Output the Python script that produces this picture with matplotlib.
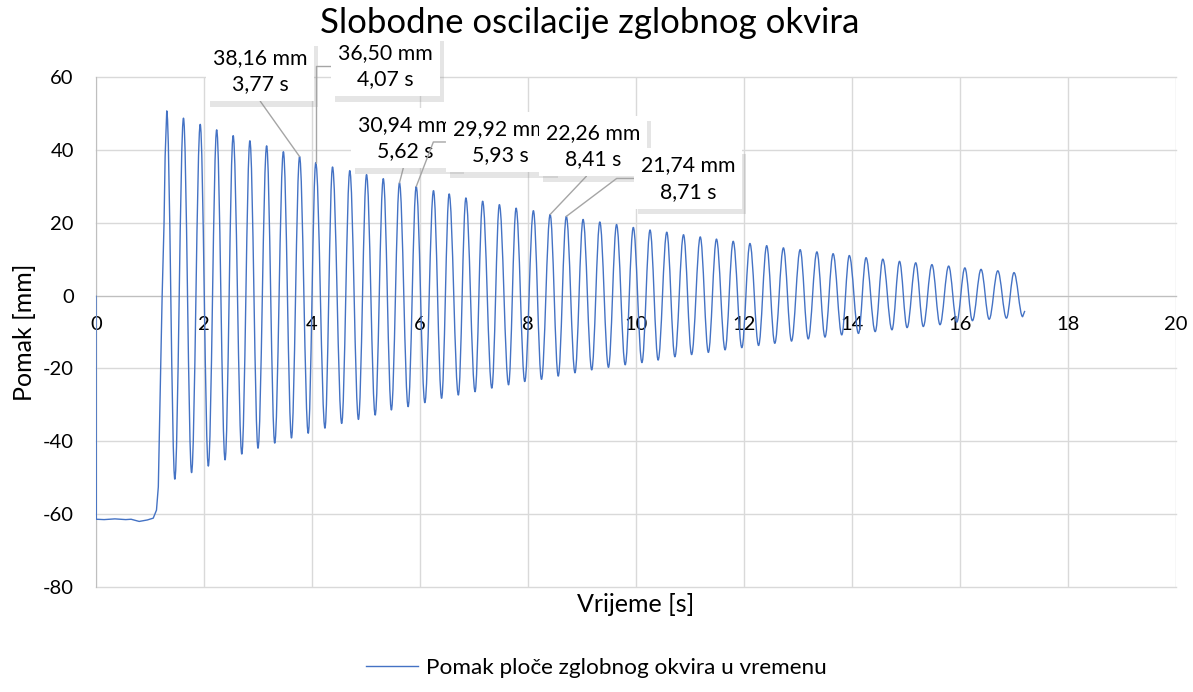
import numpy as np
import matplotlib
matplotlib.use("Agg")
import matplotlib.pyplot as plt
from matplotlib.path import Path
from matplotlib.patches import PathPatch
from matplotlib.lines import Line2D
import matplotlib.patheffects as pe

plt.rcParams['font.family'] = ['Lato', 'DejaVu Sans']
plt.rcParams['axes.unicode_minus'] = False

# data
# resting position and release (before free oscillation starts)
release_t = [0.0, 0.005, 0.15, 0.35, 0.55, 0.65, 0.80, 0.95, 1.06, 1.12, 1.154, 1.17, 1.197, 1.225, 1.26, 1.28]
release_v = [0.0, -61.4, -61.5, -61.3, -61.5, -61.4, -62.0, -61.6, -61.1, -58.9, -52.5, -40.5, -20.4, 0.0, 19.8, 38.1]

peak_t = [1.31, 1.62, 1.93, 2.235, 2.54, 2.85, 3.16, 3.47, 3.77, 4.07,
          4.38, 4.70, 5.01, 5.32, 5.62, 5.93, 6.25, 6.54, 6.85, 7.16,
          7.47, 7.78, 8.10, 8.41, 8.71, 9.02, 9.33, 9.64, 9.95, 10.26,
          10.57, 10.88, 11.19, 11.49, 11.80, 12.11, 12.42, 12.73, 13.04, 13.35,
          13.65, 13.95, 14.26, 14.57, 14.88, 15.18, 15.48, 15.79, 16.09, 16.39,
          16.70, 17.00]
peak_v = [50.7, 48.7, 47.0, 45.5, 43.9, 42.5, 41.1, 39.5, 38.16, 36.50,
          35.3, 34.3, 33.2, 32.1, 30.94, 29.92, 28.8, 27.9, 26.8, 25.9,
          24.96, 24.0, 23.3, 22.26, 21.74, 20.9, 20.2, 19.5, 18.7, 18.0,
          17.4, 16.7, 16.1, 15.5, 14.9, 14.3, 13.7, 13.1, 12.6, 12.0,
          11.5, 11.0, 10.4, 10.0, 9.4, 9.0, 8.5, 8.1, 7.6, 7.2,
          6.8, 6.3]
trough_t = [1.46, 1.77, 2.08, 2.39, 2.70, 3.00, 3.31, 3.62, 3.93, 4.24,
            4.55, 4.86, 5.17, 5.47, 5.78, 6.09, 6.40, 6.71, 7.02, 7.33,
            7.64, 7.94, 8.25, 8.56, 8.87, 9.18, 9.49, 9.80, 10.11, 10.41,
            10.72, 11.03, 11.34, 11.65, 11.96, 12.27, 12.57, 12.88, 13.19, 13.50,
            13.81, 14.12, 14.43, 14.74, 15.02, 15.32, 15.63, 15.94, 16.23, 16.54,
            16.86, 17.16]
trough_v = [-50.4, -48.6, -46.8, -45.1, -43.5, -41.9, -40.5, -39.1, -37.8, -36.4,
            -35.1, -34.0, -32.8, -31.4, -30.5, -29.4, -28.2, -27.3, -26.4, -25.4,
            -24.5, -23.6, -23.0, -22.1, -21.2, -20.4, -19.7, -19.0, -18.4, -17.7,
            -16.8, -16.2, -15.6, -14.9, -14.3, -13.7, -13.1, -12.5, -11.9, -11.4,
            -10.8, -10.4, -9.9, -9.4, -8.8, -8.5, -8.0, -7.3, -6.9, -6.5,
            -6.2, -5.8]
end_t, end_v = 17.20, -4.2

# labelled peaks
label_t = [3.77, 4.07, 5.62, 5.93, 8.41, 8.71]
label_v = [38.16, 36.50, 30.94, 29.92, 22.26, 21.74]

line_color = '#4472C4'
grid_color = '#d9d9d9'
axis_color = '#bfbfbf'
lead_color = '#a5a5a5'

fig = plt.figure(figsize=(11.93, 6.92), dpi=100)
ax = fig.add_axes([96 / 1193, 1 - 587 / 692, 1080 / 1193, 510 / 692])

# build the curve: straight segments for the release, smooth bezier
# segments (horizontal tangent at every extremum) for the oscillation
ext_t = []
ext_v = []
for pt, pv, tt, tv in zip(peak_t, peak_v, trough_t, trough_v):
    ext_t += [pt, tt]
    ext_v += [pv, tv]

verts = [(release_t[0], release_v[0])]
codes = [Path.MOVETO]
for t, v in zip(release_t[1:], release_v[1:]):
    verts.append((t, v))
    codes.append(Path.LINETO)
verts.append((ext_t[0], ext_v[0]))
codes.append(Path.LINETO)
k = 0.36
for i in range(1, len(ext_t)):
    t0, v0 = ext_t[i - 1], ext_v[i - 1]
    t1, v1 = ext_t[i], ext_v[i]
    dt = t1 - t0
    verts += [(t0 + k * dt, v0), (t1 - k * dt, v1), (t1, v1)]
    codes += [Path.CURVE4] * 3
verts.append((end_t, end_v))
codes.append(Path.LINETO)

curve = PathPatch(Path(verts, codes), fill=False, edgecolor=line_color,
                  lw=1.0, zorder=3, joinstyle='round')
ax.add_patch(curve)

ax.set_xlim(0, 20)
ax.set_ylim(-80, 60)
ax.set_xticks(np.arange(0, 21, 2))
ax.set_yticks(np.arange(-80, 61, 20))
ax.grid(True, color=grid_color, lw=1.0, zorder=0)
ax.set_axisbelow(True)
for gl in ax.get_xgridlines() + ax.get_ygridlines():
    gl.set_clip_on(False)

ax.spines['bottom'].set_position(('data', 0))
ax.spines['bottom'].set_color(axis_color)
ax.spines['left'].set_color(axis_color)
ax.spines['top'].set_visible(False)
ax.spines['right'].set_visible(False)
ax.tick_params(axis='both', length=0, labelsize=14.5, colors='black')
ax.tick_params(axis='x', pad=15)
ax.tick_params(axis='y', pad=16)

ax.set_xlabel('Vrijeme [s]', fontsize=18)
ax.xaxis.set_label_coords(0.5, -0.012)
ax.set_ylabel('Pomak [mm]', fontsize=18)
ax.yaxis.set_label_coords(-0.056, 0.5)

fig.text(0.494, 1 - 23 / 692, 'Slobodne oscilacije zglobnog okvira',
         ha='center', va='center', fontsize=25)

# data labels with leader lines
offsets = [(-28.5, 61.6), (50.3, 69.6), (4.0, 32.3), (60.3, 32.1), (30.9, 49.3), (87.6, 27.3)]
relpos = [(0.45, 0), (0, 0.5), (0.5, 0), (0, 0.5), (0.5, 0), (0, 0.5)]
conns = ['arc3,rad=0', 'angle,angleA=0,angleB=90,rad=0', 'arc3,rad=0',
         'angle,angleA=0,angleB=69,rad=0', 'arc3,rad=0', 'angle,angleA=0,angleB=37,rad=0']

for i, (t, v) in enumerate(zip(label_t, label_v)):
    txt = '{:.2f} mm\n{:.2f} s'.format(v, t).replace('.', ',')
    ann = ax.annotate(txt, xy=(t, v), xytext=offsets[i], textcoords='offset points',
                      ha='center', va='center', fontsize=15.3, linespacing=1.4,
                      bbox=dict(boxstyle='square,pad=0.33', fc='white', ec='none'),
                      arrowprops=dict(arrowstyle='-', color=lead_color, lw=1.0,
                                      shrinkA=0, shrinkB=0, relpos=relpos[i],
                                      connectionstyle=conns[i]),
                      zorder=5 + i, annotation_clip=False)
    ann.get_bbox_patch().set_path_effects([
        pe.withSimplePatchShadow(offset=(3, -4), shadow_rgbFace='0.55', alpha=0.22)])

handle = Line2D([], [], color=line_color, lw=1.0)
fig.legend([handle], ['Pomak ploče zglobnog okvira u vremenu'], loc='center',
           bbox_to_anchor=(0.5, 1 - 668 / 692), frameon=False, fontsize=16.2,
           handlelength=2.3, handletextpad=0.35)

fig.savefig('out.png', dpi=100)
